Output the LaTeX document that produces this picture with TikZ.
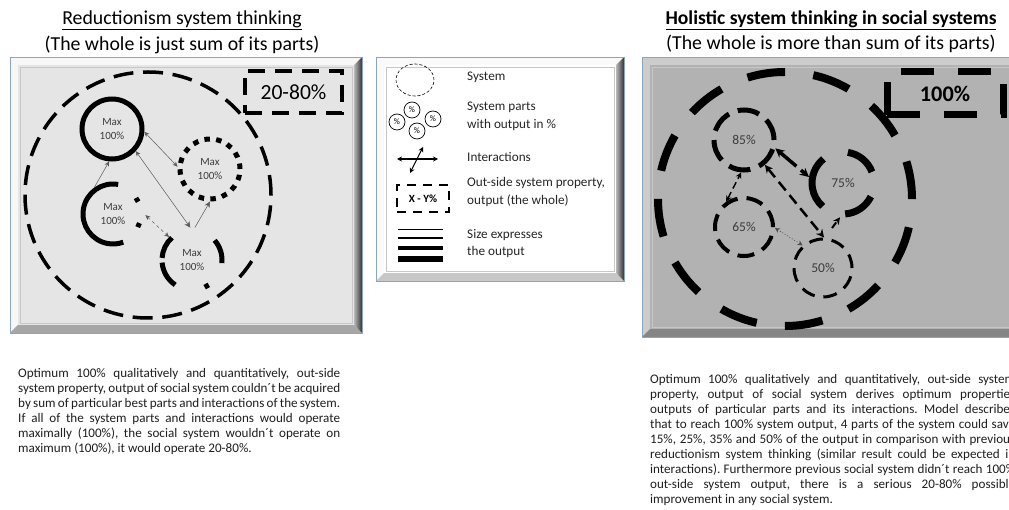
\documentclass[tikz,border=0pt]{standalone}
\usepackage{fontspec}
\setmainfont{Carlito}
\usetikzlibrary{arrows.meta,shapes.geometric}
\definecolor{bordblue}{HTML}{8AA4C4}
\definecolor{txtgray}{HTML}{3C3C3C}
\newcommand{\bevelpanel}[7]{%
  \fill[#6] (#1,#2) rectangle (#3,#4);
  \fill[#7] (#1,#2) -- (#3,#2) -- (#3-8,#2+8) -- (#1+8,#2+8) -- cycle;
  \shade[left color=black!28, right color=black!80] (#3,#2) -- (#3,#4) -- (#3-8,#4-8) -- (#3-8,#2+8) -- cycle;
  \fill[#5] (#1+8,#2+8) rectangle (#3-8,#4-8);
  \draw[black!22, line width=0.6pt] (#1+10,#2+10) rectangle (#3-10,#4-10);
  \draw[bordblue, line width=0.9pt] (#1,#2) rectangle (#3,#4);
}
\frenchspacing
\begin{document}
\begin{tikzpicture}[x=1pt,y=1pt,
  part/.style={circle, minimum size=60pt, inner sep=0pt, align=center, text=txtgray, font=\fontsize{11}{13.5}\selectfont},
  rpart/.style={part, font=\fontsize{13.5}{15}\selectfont},
  thinarr/.style={line width=0.5pt, draw=black!65},
  legtxt/.style={anchor=west, align=left, text=black!85, font=\fontsize{13.2}{17.5}\selectfont, inner sep=0pt},
  bodytxt/.style={anchor=north west, align=left, inner sep=0pt, text=black!88, font=\fontsize{13.1}{15}\selectfont},
  titletxt/.style={font=\fontsize{19.8}{23}\selectfont, inner sep=0pt},
  pct/.style={draw, circle, minimum size=16pt, inner sep=0pt, line width=0.7pt, font=\fontsize{8.5}{9}\selectfont}
]
\useasboundingbox (0,0) rectangle (1009,509);
\clip (0,0) rectangle (1009,509);
\fill[white] (0,0) rectangle (1009,509);

% ---------- titles
\node[titletxt] (lt1) at (182,489) {\underline{Reductionism system thinking}};
\node[titletxt] (lt2) at (182,464) {(The whole is just sum of its parts)};
\node[titletxt, font=\bfseries\fontsize{19.6}{23}\selectfont] (rt1) at (831,489) {\underline{Holistic system thinking in social systems}};
\node[titletxt] (rt2) at (831,465) {(The whole is more than sum of its parts)};

% ---------- panels
\bevelpanel{10}{176}{362}{452}{black!10}{black!3}{black!35}
\bevelpanel{376}{228}{624}{452}{white}{black!2}{black!22}
\bevelpanel{642}{172}{1030}{452}{black!30}{black!20}{black!48}

% ---------- left diagram
\node[draw, circle, minimum size=246pt, line width=3.5pt, dash pattern=on 20pt off 9.7pt] (lsys) at (148,314) {};
\node[draw, line width=4pt, dash pattern=on 17pt off 10pt, minimum width=97pt, minimum height=42pt, inner sep=0pt, font=\fontsize{21.6}{24}\selectfont] (lout) at (293.5,417) {20-80\%};

\node[part, draw, line width=5pt] (l1) at (112,380) {Max\\100\%};
\node[part, draw, line width=5pt, dash pattern=on 5.5pt off 6.3pt] (l2) at (210,340) {Max\\100\%};
\node[part, outer sep=2.5pt] (l3) at (113,295) {Max\\100\%};
\node[part, outer sep=2.5pt] (l4) at (192,249) {Max\\100\%};
\draw[line width=5pt] (l3.center) ++(80:30) arc[start angle=80, end angle=290, radius=30];
\draw[line width=5pt] (l3.center) ++(26:28) arc[start angle=26, end angle=35, radius=28];
\draw[line width=5pt] (l3.center) ++(-28:28) arc[start angle=-28, end angle=-19, radius=28];
\draw[line width=5pt] (l4.center) ++(132:30) arc[start angle=132, end angle=176, radius=30];
\draw[line width=5pt] (l4.center) ++(185:30) arc[start angle=185, end angle=236, radius=30];
\draw[line width=5pt] (l4.center) ++(-65:30) arc[start angle=-65, end angle=-56, radius=30];
\draw[line width=5pt] (l4.center) ++(-6:30) arc[start angle=-6, end angle=41, radius=30];

\draw[thinarr, {Stealth[length=5pt,width=4.5pt]}-{Stealth[length=5pt,width=4.5pt]}] (l1.-5) -- (l2.176);
\draw[thinarr, {Stealth[length=5pt,width=4.5pt]}-{Stealth[length=6pt,width=6pt]}] (l1.-43) -- (l4.93);
\draw[thinarr, -{Stealth[length=5pt,width=4.5pt]}] (l3.125) -- (l1.-95);
\draw[thinarr, -{Stealth[length=6pt,width=5.5pt]}] (l4.85) -- (l2.-90);
\draw[thinarr, dashed, {Stealth[length=5pt,width=4.5pt]}-{Stealth[length=5pt,width=4.5pt]}] (l3.-2) -- (l4.135);

% ---------- legend
\node[draw, ellipse, line width=0.6pt, dash pattern=on 3pt off 2pt, minimum width=38pt, minimum height=32pt, inner sep=0pt] (lgsys) at (415,429) {};
\node[legtxt] (lgsyst) at (467,432) {System};
\node[pct] (p1) at (412,399) {\%};
\node[pct] (p2) at (397,387) {\%};
\node[pct] (p3) at (417,378) {\%};
\node[pct] (p4) at (433,390) {\%};
\node[legtxt] (lgpart) at (467,392.5) {System parts\\with output in \%};
\coordinate (ia) at (397,350);
\coordinate (ib) at (438,350);
\coordinate (ic) at (410,336);
\coordinate (id) at (423,362);
\draw[line width=1.1pt, {Stealth[length=5pt,width=5pt]}-{Stealth[length=5pt,width=5pt]}] (ia) -- (ib);
\draw[line width=1.1pt, {Stealth[length=5pt,width=5pt]}-{Stealth[length=5pt,width=5pt]}] (ic) -- (id);
\node[legtxt] (lgint) at (467,352) {Interactions};
\node[draw, line width=2pt, dash pattern=on 9pt off 7pt, minimum width=52pt, minimum height=27pt, inner sep=0pt, font=\bfseries\fontsize{11}{12}\selectfont] (lgout) at (423,310.5) {X - Y\%};
\node[legtxt] (lgoutt) at (467,317) {Out-side system property,\\output (the whole)};
\draw[line width=0.8pt] (398,280) -- (443,280);
\draw[line width=2pt] (398,271) -- (443,271);
\draw[line width=4.5pt] (398,261) -- (443,261);
\draw[line width=5.5pt] (398,250) -- (443,250);
\node[legtxt] (lgsize) at (467,265.5) {Size expresses\\the output};

% ---------- right diagram
\node[draw, circle, minimum size=254pt, line width=8pt, dash pattern=on 38pt off 28.5pt] (rsys) at (785,310) {};
\node[draw, line width=7pt, dash pattern=on 33pt off 24pt, minimum width=116pt, minimum height=43pt, inner sep=0pt, font=\bfseries\fontsize{22.3}{25}\selectfont] (rout) at (945,415.5) {100\%};

\node[rpart, draw, line width=5pt, dash pattern=on 22pt off 9.4pt] (r85) at (744,369) {85\%};
\node[rpart, minimum size=62pt, outer sep=3.5pt] (r75) at (843,326) {75\%};
\node[rpart, draw, line width=4pt, dash pattern=on 17pt off 9pt, minimum size=58pt] (r65) at (744,282) {65\%};
\node[rpart, draw, line width=3pt, dash pattern=on 14pt off 8.8pt, minimum size=58pt] (r50) at (823,241) {50\%};
\draw[line width=7pt] (r75.center) ++(129:31) arc[start angle=129, end angle=229, radius=31];
\draw[line width=7pt] (r75.center) ++(21:31) arc[start angle=21, end angle=81, radius=31];
\draw[line width=7pt] (r75.center) ++(-86:31) arc[start angle=-86, end angle=-26, radius=31];

\coordinate (r3s) at (832,281);
\draw[line width=3.5pt, dash pattern=on 22pt off 6pt, {Stealth[length=9pt,width=9pt]}-{Stealth[length=9pt,width=9pt]}] (r85.-15) -- (r75.170);
\draw[line width=2.5pt, dash pattern=on 11pt off 6pt, {Stealth[length=8pt,width=8pt]}-{Stealth[length=8pt,width=8pt]}] (r85.-50) -- (r50.88);
\draw[line width=2pt, dash pattern=on 7pt off 4pt, -{Stealth[length=7pt,width=7pt]}] (r3s) -- (r75.-95);
\draw[line width=1.5pt, dash pattern=on 7pt off 4pt, {Stealth[length=6pt,width=6pt]}-{Stealth[length=6pt,width=6pt]}] (r65.125) -- (r85.-95);
\draw[line width=0.8pt, dotted, draw=black!70, {Stealth[length=5pt,width=5pt]}-{Stealth[length=5pt,width=5pt]}] (r65.-2) -- (r50.132);

% ---------- body texts
\node[bodytxt] (ltext) at (18,141) {%
\makebox[322pt][s]{Optimum 100\% qualitatively and quantitatively, out-side}\\
\makebox[322pt][s]{system property, output of social system couldn´t be acquired}\\
\makebox[322pt][s]{by sum of particular best parts and interactions of the system.}\\
\makebox[322pt][s]{If all of the system parts and interactions would operate}\\
\makebox[322pt][s]{maximally (100\%), the social system wouldn´t operate on}\\
maximum (100\%), it would operate 20-80\%.};

\node[bodytxt] (rtext) at (650,135) {%
\makebox[365pt][s]{Optimum 100\% qualitatively and quantitatively, out-side system}\\
\makebox[365pt][s]{property, output of social system derives optimum properties}\\
\makebox[365pt][s]{outputs of particular parts and its interactions. Model describes}\\
\makebox[365pt][s]{that to reach 100\% system output, 4 parts of the system could save}\\
\makebox[365pt][s]{15\%, 25\%, 35\% and 50\% of the output in comparison with previous}\\
\makebox[365pt][s]{reductionism system thinking (similar result could be expected in}\\
\makebox[365pt][s]{interactions). Furthermore previous social system didn´t reach 100\%}\\
\makebox[365pt][s]{out-side system output, there is a serious 20-80\% possible}\\
improvement in any social system.};
\end{tikzpicture}
\end{document}
